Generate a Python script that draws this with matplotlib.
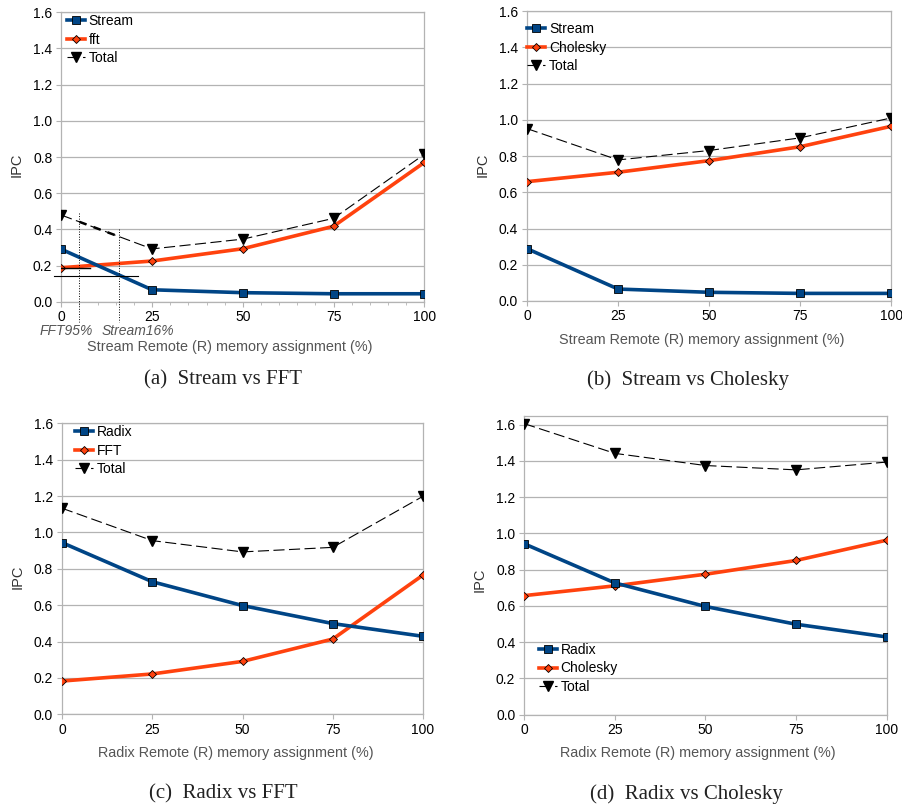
import numpy as np
import matplotlib.pyplot as plt

plt.rcParams['font.family'] = ['Liberation Sans', 'DejaVu Sans']

remote_pct = [0, 25, 50, 75, 100]

# (a) Stream vs FFT
a_stream = [0.290, 0.066, 0.050, 0.044, 0.044]
a_fft = [0.188, 0.225, 0.293, 0.417, 0.770]
a_total = [0.479, 0.292, 0.346, 0.461, 0.815]

# (b) Stream vs Cholesky
b_stream = [0.289, 0.066, 0.048, 0.042, 0.042]
b_cholesky = [0.659, 0.711, 0.775, 0.852, 0.965]
b_total = [0.952, 0.779, 0.831, 0.901, 1.011]

# (c) Radix vs FFT
c_radix = [0.944, 0.729, 0.598, 0.499, 0.429]
c_fft = [0.183, 0.222, 0.291, 0.414, 0.766]
c_total = [1.133, 0.955, 0.893, 0.918, 1.199]

# (d) Radix vs Cholesky
d_radix = [0.943, 0.727, 0.597, 0.499, 0.429]
d_cholesky = [0.657, 0.711, 0.775, 0.851, 0.963]
d_total = [1.606, 1.442, 1.375, 1.351, 1.394]

# split points marked on (a)
split_pct = [5, 16]
split_labels = ['FFT95%', 'Stream16%']

BLUE = '#004586'
ORANGE = '#ff420e'
GRID = '#b3b3b3'

fig = plt.figure(figsize=(9.03, 8.10), dpi=100)


def panel(rect, names, first, second, total, xlabel, caption, cap_xy,
          leg_xy, xlab_x, xlab_y, ylab_xy, ytop=1.6, minor=False):
    ax = fig.add_axes(rect)
    ax.plot(remote_pct, second, color=ORANGE, lw=2.6, marker='D', ms=4.5,
            mfc=ORANGE, mec='black', mew=0.6, label=names[1], zorder=3)
    ax.plot(remote_pct, first, color=BLUE, lw=2.6, marker='s', ms=6,
            mfc=BLUE, mec='black', mew=0.6, label=names[0], zorder=3.5)
    ax.plot(remote_pct, total, color='black', lw=0.8, ls=(0, (10, 4)),
            marker='v', ms=6.5, mfc='black', mec='black', label='Total', zorder=4)

    ax.set_xlim(0, 100)
    ax.set_ylim(0, ytop)
    ax.set_xticks(remote_pct)
    ax.set_yticks(np.arange(0, 1.61, 0.2))
    ax.set_yticklabels([f'{v:.1f}' for v in np.arange(0, 1.61, 0.2)])
    if minor:
        ax.set_xticks(np.arange(0, 101, 5), minor=True)
    ax.grid(axis='y', color=GRID, lw=0.9)
    ax.set_axisbelow(True)
    for s in ax.spines.values():
        s.set_color(GRID)
        s.set_linewidth(0.9)
    ax.tick_params(axis='both', which='major', length=3.5, color=GRID,
                   labelsize=10, pad=3)
    ax.tick_params(axis='x', which='minor', length=2, color=GRID)
    ax.tick_params(axis='x', pad=2.5)

    ax.set_xlabel(xlabel, fontsize=10.4, color='#555555')
    ax.xaxis.set_label_coords(xlab_x, xlab_y)
    ax.xaxis.label.set_va('center')
    ax.set_ylabel('IPC', fontsize=10.5, color='#333333')
    ax.yaxis.set_label_coords(*ylab_xy)
    ax.yaxis.label.set_va('center')

    h, l = ax.get_legend_handles_labels()
    order = [1, 0, 2]
    ax.legend([h[i] for i in order], [l[i] for i in order], loc='upper left',
              bbox_to_anchor=leg_xy, frameon=False, fontsize=10,
              handlelength=1.3, handletextpad=0.25, labelspacing=0.33,
              borderpad=0, borderaxespad=0)

    fig.text(cap_xy[0] / 903, 1 - cap_xy[1] / 810, caption,
             family=['Liberation Serif', 'DejaVu Serif'], fontsize=15,
             color='#222222', ha='center', va='center')
    return ax


ax_a = panel([0.0679, 0.6275, 0.402, 0.3573], ['Stream', 'fft'],
             a_stream, a_fft, a_total,
             'Stream Remote (R) memory assignment (%)', '(a)  Stream vs FFT',
             (223, 380), (0.016, 0.994), 0.463, -0.155, (-0.122, 0.472),
             minor=True)
panel([0.5836, 0.6284, 0.4034, 0.3577], ['Stream', 'Cholesky'],
      b_stream, b_cholesky, b_total,
      'Stream Remote (R) memory assignment (%)', '(b)  Stream vs Cholesky',
      (688, 380), (0.001, 0.963), 0.480, -0.135, (-0.122, 0.469))
panel([0.0687, 0.1181, 0.3998, 0.3593], ['Radix', 'FFT'],
      c_radix, c_fft, c_total,
      'Radix Remote (R) memory assignment (%)', '(c)  Radix vs FFT',
      (223, 794), (0.037, 0.994), 0.480, -0.133, (-0.124, 0.473))
panel([0.5806, 0.1177, 0.4013, 0.3691], ['Radix', 'Cholesky'],
      d_radix, d_cholesky, d_total,
      'Radix Remote (R) memory assignment (%)', '(d)  Radix vs Cholesky',
      (686, 794), (0.041, 0.240), 0.479, -0.128, (-0.122, 0.45), ytop=1.65)

# split markers on (a): dotted guides, reference rule and labels
for pct, top in zip(split_pct, [0.49, 0.40]):
    ax_a.plot([pct, pct], [top, -0.11], color='black', lw=0.7, ls=':',
              clip_on=False, zorder=5)
ax_a.plot([-2.1, 21], [0.142, 0.142], color='black', lw=0.8, clip_on=False,
          zorder=5)
ax_a.plot([0, 8], [a_fft[0], a_fft[0]], color='black', lw=1.0, zorder=5)
seg_x = np.array(split_pct, dtype=float)
ax_a.plot(seg_x, np.interp(seg_x, remote_pct, a_total), color='black', lw=1.8,
          ls=(0, (3, 3)), zorder=5)
for pct, lab, xt in zip(split_pct, split_labels, [1.3, 21]):
    ax_a.text(xt, -0.163, lab, fontsize=10, style='italic', color='#555555',
              ha='center', va='center')

fig.savefig('out.png', dpi=100)
